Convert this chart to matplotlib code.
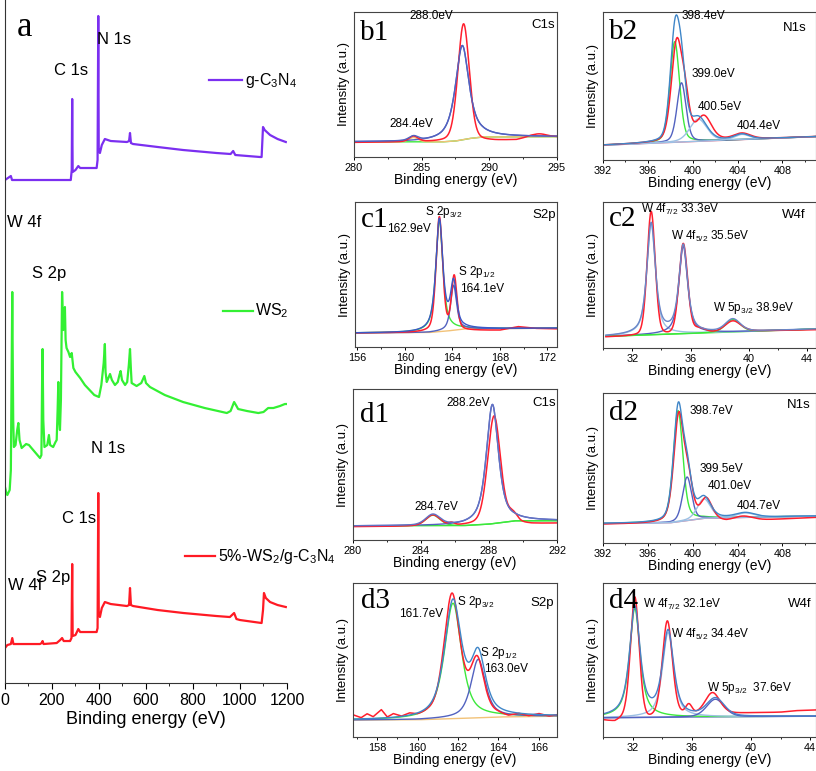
import numpy as np
import matplotlib
matplotlib.use('Agg')
import matplotlib.pyplot as plt

plt.rcParams['font.family'] = ['Liberation Sans', 'DejaVu Sans']
plt.rcParams['mathtext.fontset'] = 'custom'
plt.rcParams['mathtext.rm'] = 'Liberation Sans'
plt.rcParams['mathtext.default'] = 'regular'

# ---------------- survey spectra (panel a), binding energy in eV, intensity a.u.
gcn_e = [0, 25, 30, 280, 284, 286, 288, 300, 312, 320, 390, 394, 397, 399, 404, 412, 425, 450,
         519, 528, 532, 536, 545, 650, 758, 900, 960, 971, 980, 1085, 1092, 1098, 1105, 1128, 1160, 1195]
gcn_i = [503, 507, 503, 503, 513, 584, 511, 513, 517, 515, 515, 523, 667, 533, 530, 538, 544, 542,
         541, 542, 550, 540, 539, 536, 533, 530, 529, 532, 528, 526, 526, 556, 553, 548, 544, 541]

ws2_e = [0, 5, 10, 20, 25, 31, 35, 38, 45, 52, 57, 62, 71, 90, 102, 120, 149, 155, 158, 160, 163,
         168, 180, 187, 192, 205, 215, 220, 224, 227, 230, 234, 238, 243, 248, 252, 255, 258, 262,
         270, 277, 284, 291, 300, 320, 340, 360, 380, 400, 410, 420, 425, 428, 433, 440, 447, 455,
         468, 480, 487, 492, 498, 511, 520, 527, 532, 536, 539, 560, 580, 593, 600, 617, 680, 758,
         850, 944, 960, 975, 985, 992, 1030, 1078, 1100, 1120, 1142, 1170, 1191, 1200]
ws2_i = [196, 191, 188, 193, 213, 391, 263, 236, 238, 253, 260, 243, 235, 239, 238, 233, 225, 228,
         303, 334, 263, 236, 238, 248, 238, 236, 241, 243, 273, 301, 263, 253, 283, 391, 353, 363,
         376, 343, 335, 331, 326, 330, 315, 311, 305, 298, 293, 288, 286, 298, 320, 339, 311, 301,
         305, 309, 303, 298, 301, 308, 312, 303, 298, 301, 318, 334, 313, 300, 297, 300, 307, 300,
         296, 288, 281, 275, 270, 272, 281, 277, 274, 272, 270, 271, 275, 275, 277, 279, 279]

comp_e = [0, 10, 25, 31, 36, 80, 149, 156, 160, 164, 220, 235, 243, 250, 277, 283, 286, 288, 300,
          312, 320, 390, 394, 397, 399, 404, 412, 425, 450, 519, 528, 532, 536, 545, 650, 760, 900,
          957, 975, 985, 1000, 1092, 1098, 1102, 1110, 1128, 1160, 1195]
comp_i = [35, 38, 39, 45, 39, 39, 39, 40, 42, 39, 40, 43, 45, 42, 42, 45, 119, 47, 48, 54, 51, 51,
          55, 190, 71, 66, 75, 81, 79, 77, 78, 95, 78, 77, 73, 70, 67, 66, 70, 64, 63, 60, 73, 90,
          85, 81, 78, 76]

# ---------------- high resolution spectra: peaks are (centre eV, height, FWHM eV, lorentz fraction)
b1_bg_x, b1_bg_y = [280, 286.5, 287.5, 288.5, 289.5, 295], [0.104, 0.104, 0.11, 0.127, 0.138, 0.14]
b1_fit = [(284.4, 0.03, 0.8, 0.3), (288.0, 0.65, 1.2, 0.8)]
b1_raw_bg_x = [280, 286, 289, 290.5, 292, 293, 295]
b1_raw_bg_y = [0.10, 0.104, 0.11, 0.112, 0.118, 0.14, 0.14]
b1_raw = [(284.4, 0.038, 0.8, 0.3), (288.1, 0.81, 1.0, 0.25), (293.7, 0.018, 1.2, 0.0)]

b2_bg_x, b2_bg_y = [392, 411], [0.100, 0.158]
b2_fit = [(398.4, 0.68, 1.0, 0.3), (399.0, 0.40, 0.95, 0.3), (400.5, 0.15, 1.8, 0.3), (404.4, 0.035, 1.6, 0.3)]
b2_raw_bg_x, b2_raw_bg_y = [392, 411], [0.100, 0.158]
b2_raw = [(398.55, 0.64, 1.1, 0.3), (399.3, 0.26, 0.95, 0.3), (401.0, 0.16, 1.6, 0.3), (404.4, 0.04, 1.8, 0.3)]

c1_bg_x, c1_bg_y = [155.8, 162, 163.5, 165, 172.8], [0.097, 0.1, 0.11, 0.125, 0.13]
c1_fit = [(162.9, 0.77, 0.7, 0.8), (164.1, 0.31, 0.6, 0.7)]
c1_raw_bg_x = [155.8, 162, 163.5, 164.5, 166, 168, 169.5, 171, 172.8]
c1_raw_bg_y = [0.097, 0.1, 0.105, 0.11, 0.113, 0.115, 0.14, 0.128, 0.125]
c1_raw = [(162.9, 0.79, 0.65, 0.4), (164.15, 0.37, 0.55, 0.4)]

c2_bg_x, c2_bg_y = [30.2, 44.6], [0.08, 0.13]
c2_fit = [(33.3, 0.76, 0.7, 0.7), (35.5, 0.6, 0.7, 0.7), (38.9, 0.085, 1.2, 0.3)]
c2_raw_bg_x, c2_raw_bg_y = [30.2, 32, 34.5, 37, 40, 44.6], [0.075, 0.08, 0.085, 0.1, 0.115, 0.125]
c2_raw = [(33.3, 0.85, 0.65, 0.2), (35.5, 0.62, 0.7, 0.2), (36.6, 0.03, 1.0, 0.0), (38.9, 0.075, 1.3, 0.3)]

d1_bg_x, d1_bg_y = [280, 286.5, 288, 289.5, 292], [0.093, 0.095, 0.105, 0.127, 0.128]
d1_fit = [(284.7, 0.07, 1.0, 0.3), (288.2, 0.79, 0.85, 0.7)]
d1_raw_bg_x, d1_raw_bg_y = [280, 286, 288, 289.5, 290.5, 292], [0.088, 0.092, 0.1, 0.11, 0.105, 0.11]
d1_raw = [(284.7, 0.072, 1.0, 0.3), (285.8, 0.015, 0.4, 0.0), (288.3, 0.72, 0.9, 0.3), (289.4, 0.05, 0.6, 0.0)]

d2_bg_x, d2_bg_y = [392, 398, 399.5, 401, 411], [0.13, 0.135, 0.15, 0.165, 0.18]
d2_fit = [(398.7, 0.74, 1.0, 0.4), (399.5, 0.29, 0.95, 0.3), (401.0, 0.13, 1.4, 0.3), (404.7, 0.03, 2.0, 0.3)]
d2_raw_bg_x, d2_raw_bg_y = [392, 398, 400, 402, 403, 411], [0.125, 0.13, 0.14, 0.15, 0.14, 0.17]
d2_raw = [(398.75, 0.70, 1.05, 0.4), (399.6, 0.25, 0.95, 0.3), (401.2, 0.14, 1.2, 0.3), (404.5, 0.03, 2.0, 0.3)]

d3_bg_x, d3_bg_y = [156.8, 160, 162, 164, 166.9], [0.11, 0.112, 0.12, 0.13, 0.135]
d3_fit = [(161.75, 0.75, 1.0, 0.7), (163.0, 0.38, 0.85, 0.7)]
d3_raw_bg_x = [156.8, 157.2, 157.5, 157.8, 158.2, 158.5, 158.8, 159.2, 159.6, 160, 160.5, 161,
               164, 164.5, 165, 165.5, 166, 166.5, 166.9]
d3_raw_bg_y = [0.14, 0.12, 0.145, 0.125, 0.17, 0.12, 0.14, 0.12, 0.135, 0.12, 0.125, 0.115,
               0.13, 0.12, 0.14, 0.128, 0.145, 0.13, 0.14]
d3_raw = [(161.7, 0.80, 0.95, 0.5), (162.95, 0.35, 0.8, 0.5)]

d4_bg_x, d4_bg_y = [30, 44.4], [0.125, 0.135]
d4_fit = [(32.15, 0.71, 0.85, 0.8), (34.4, 0.55, 0.9, 0.7), (37.6, 0.115, 1.4, 0.3)]
d4_raw_bg_x = [30, 30.8, 31.5, 33, 34, 36.5, 38.5, 40, 42, 43, 44.4]
d4_raw_bg_y = [0.105, 0.09, 0.11, 0.095, 0.125, 0.14, 0.15, 0.155, 0.16, 0.17, 0.175]
d4_raw = [(32.15, 0.80, 0.7, 0.3), (34.35, 0.62, 0.8, 0.3), (35.8, 0.06, 0.5, 0.0), (37.4, 0.14, 1.2, 0.3)]


def pv(x, c, h, w, eta):
    L = 1.0 / (1.0 + ((x - c) / (w / 2.0)) ** 2)
    G = np.exp(-4 * np.log(2) * ((x - c) / w) ** 2)
    return h * (eta * L + (1 - eta) * G)


RED = '#ff1f2e'
GREEN = '#3ce83c'
BLUE = '#5262c0'
LBLUE = '#9cc0e4'
STEEL = '#3f86c8'
ORANGE = '#f2c278'
PINK = '#f0708a'

fig = plt.figure(figsize=(8.16, 7.71), dpi=100)

# ---------------- panel a
ax = fig.add_axes([0.0061, 0.1141, 0.3456, 0.8859])
ax.plot(gcn_e, gcn_i, color='#7b2ff0', lw=1.6)
ax.plot(ws2_e, ws2_i, color='#33f033', lw=1.6)
ax.plot(comp_e, comp_i, color='#ff1a24', lw=1.6)
ax.set_xlim(0, 1200)
ax.set_ylim(0, 683)
ax.set_xticks(np.arange(0, 1201, 200))
ax.set_xticks(np.arange(0, 1201, 100), minor=True)
ax.set_yticks([])
for s in ['top', 'right']:
    ax.spines[s].set_visible(False)
for s in ['left', 'bottom']:
    ax.spines[s].set_color('#333333')
ax.tick_params(axis='x', which='major', length=4, labelsize=11.5, pad=3)
ax.tick_params(axis='x', which='minor', length=2.5)
ax.set_xlabel('Binding energy (eV)', fontsize=13, labelpad=2)
ax.text(51, 647, 'a', family=['Liberation Serif'], fontsize=25, va='baseline')
fs = 12
ax.text(208, 613, 'C 1s', fontsize=fs, va='center')
ax.text(391, 644, 'N 1s', fontsize=fs, va='center')
ax.text(8, 461, 'W 4f', fontsize=fs, va='center')
ax.text(115, 410, 'S 2p', fontsize=fs, va='center')
ax.text(366, 235, 'N 1s', fontsize=fs, va='center')
ax.text(243, 165, 'C 1s', fontsize=fs, va='center')
ax.text(132, 106, 'S 2p', fontsize=fs, va='center')
ax.text(13, 98, 'W 4f', fontsize=fs, va='center')
ax.plot([868, 1008], [603, 603], color='#7b2ff0', lw=1.6, clip_on=False)
ax.text(1021, 603, 'g-C$_3$N$_4$', fontsize=11.5, va='center')
ax.plot([928, 1055], [372, 372], color='#33f033', lw=1.6, clip_on=False)
ax.text(1064, 372, 'WS$_2$', fontsize=11.5, va='center')
ax.plot([766, 894], [127, 127], color='#ff1a24', lw=1.6, clip_on=False)
ax.text(906, 127, '5%-WS$_2$/g-C$_3$N$_4$', fontsize=11.5, va='center')


def xps(rect, tag, xlim, major, minor, bg, fit, fit_colors, env_color, bg_color, raw_bg, raw, labels, tagpos):
    a = fig.add_axes(rect)
    x = np.linspace(xlim[0], xlim[1], 900)
    base = np.interp(x, bg[0], bg[1])
    a.plot(x, base, color=bg_color, lw=1.0)
    total = base.copy()
    for p, col in zip(fit, fit_colors):
        y = pv(x, *p)
        total += y
        a.plot(x, base + y, color=col, lw=1.0)
    rawy = np.interp(x, raw_bg[0], raw_bg[1])
    for p in raw:
        rawy = rawy + pv(x, *p)
    a.plot(x, rawy, color=RED, lw=1.1)
    a.plot(x, total, color=env_color, lw=1.0)
    a.set_xlim(*xlim)
    a.set_ylim(0, 1)
    a.set_xticks(major)
    a.set_xticks(minor, minor=True)
    a.set_yticks([])
    for s in a.spines.values():
        s.set_color('#444444')
        s.set_linewidth(0.8)
    a.tick_params(axis='x', which='major', length=2.5, width=0.7, labelsize=7.8, pad=1.5)
    a.tick_params(axis='x', which='minor', length=1.5, width=0.6)
    a.set_xlabel('Binding energy (eV)', fontsize=10, labelpad=0.5)
    a.set_ylabel('Intensity (a.u.)', fontsize=9.5, labelpad=3)
    a.text(tagpos[0], tagpos[1], tag, transform=a.transAxes, family=['Liberation Serif'],
           fontsize=21, va='baseline')
    for t, fx, fy, ha in labels:
        size = 9.5 if ha == 'right' else 8.5
        a.text(fx, fy, t, transform=a.transAxes, fontsize=size, ha=ha, va='center')
    return a


xps([0.4338, 0.7964, 0.2488, 0.1881], 'b1', (280, 295), [280, 285, 290, 295], np.arange(280, 295.1, 2.5),
    (b1_bg_x, b1_bg_y), b1_fit, [ORANGE, BLUE], BLUE, GREEN, (b1_raw_bg_x, b1_raw_bg_y), b1_raw,
    [('288.0eV', 0.383, 0.975, 'center'), ('284.4eV', 0.285, 0.23, 'center'), ('C1s', 0.992, 0.912, 'right')],
    (0.03, 0.808))

xps([0.739, 0.7925, 0.261, 0.192], 'b2', (392, 411), np.arange(392, 409, 4), np.arange(392, 411, 2),
    (b2_bg_x, b2_bg_y), b2_fit, [GREEN, BLUE, LBLUE, LBLUE], STEEL, PINK, (b2_raw_bg_x, b2_raw_bg_y), b2_raw,
    [('398.4eV', 0.47, 0.97, 'center'), ('399.0eV', 0.52, 0.58, 'center'), ('400.5eV', 0.55, 0.36, 'center'),
     ('404.4eV', 0.73, 0.23, 'center'), ('N1s', 0.956, 0.89, 'right')],
    (0.028, 0.817))

xps([0.435, 0.5499, 0.2476, 0.1881], 'c1', (155.8, 172.8), np.arange(156, 173, 4), np.arange(156, 173, 2),
    (c1_bg_x, c1_bg_y), c1_fit, [GREEN, BLUE], '#3a58c8', ORANGE, (c1_raw_bg_x, c1_raw_bg_y), c1_raw,
    [('S 2p$_{3/2}$', 0.44, 0.93, 'center'), ('162.9eV', 0.265, 0.815, 'center'),
     ('S 2p$_{1/2}$', 0.603, 0.52, 'center'), ('164.1eV', 0.63, 0.40, 'center'), ('S2p', 0.997, 0.91, 'right')],
    (0.028, 0.831))

xps([0.739, 0.5486, 0.261, 0.1894], 'c2', (30.2, 44.6), np.arange(32, 45, 4), np.arange(30, 45, 2),
    (c2_bg_x, c2_bg_y), c2_fit, [LBLUE, BLUE, GREEN], '#6a86c8', GREEN, (c2_raw_bg_x, c2_raw_bg_y), c2_raw,
    [('W 4f$_{7/2}$ 33.3eV', 0.18, 0.95, 'left'), ('W 4f$_{5/2}$ 35.5eV', 0.32, 0.765, 'left'),
     ('W 5p$_{3/2}$ 38.9eV', 0.516, 0.274, 'left'), ('W4f', 0.95, 0.91, 'right')],
    (0.028, 0.833))

xps([0.4326, 0.2996, 0.25, 0.1958], 'd1', (280, 292), np.arange(280, 293, 4), np.arange(280, 293, 2),
    (d1_bg_x, d1_bg_y), d1_fit, [GREEN, BLUE], '#6272c4', GREEN, (d1_raw_bg_x, d1_raw_bg_y), d1_raw,
    [('288.2eV', 0.566, 0.907, 'center'), ('284.7eV', 0.41, 0.22, 'center'), ('C1s', 0.997, 0.907, 'right')],
    (0.033, 0.785))

xps([0.739, 0.2957, 0.261, 0.1946], 'd2', (392, 411), np.arange(392, 409, 4), np.arange(392, 411, 2),
    (d2_bg_x, d2_bg_y), d2_fit, [GREEN, BLUE, LBLUE, LBLUE], STEEL, PINK, (d2_raw_bg_x, d2_raw_bg_y), d2_raw,
    [('398.7eV', 0.508, 0.878, 'center'), ('399.5eV', 0.558, 0.493, 'center'), ('401.0eV', 0.594, 0.378, 'center'),
     ('404.7eV', 0.73, 0.249, 'center'), ('N1s', 0.977, 0.922, 'right')],
    (0.028, 0.818))

xps([0.4326, 0.0441, 0.25, 0.1997], 'd3', (156.8, 166.9), np.arange(158, 167, 2), np.arange(157, 167, 1),
    (d3_bg_x, d3_bg_y), d3_fit, [GREEN, BLUE], STEEL, ORANGE, (d3_raw_bg_x, d3_raw_bg_y), d3_raw,
    [('S 2p$_{3/2}$', 0.508, 0.874, 'left'), ('161.7eV', 0.336, 0.80, 'center'),
     ('S 2p$_{1/2}$', 0.623, 0.543, 'left'), ('163.0eV', 0.643, 0.439, 'left'), ('S2p', 0.984, 0.87, 'right')],
    (0.041, 0.837))

xps([0.739, 0.0441, 0.261, 0.1997], 'd4', (30, 44.4), np.arange(32, 45, 4), np.arange(30, 45, 2),
    (d4_bg_x, d4_bg_y), d4_fit, [GREEN, LBLUE, BLUE], '#4a7ec8', '#7080c0', (d4_raw_bg_x, d4_raw_bg_y), d4_raw,
    [('W 4f$_{7/2}$ 32.1eV', 0.19, 0.86, 'left'), ('W 4f$_{5/2}$ 34.4eV', 0.32, 0.663, 'left'),
     ('W 5p$_{3/2}$  37.6eV', 0.49, 0.315, 'left'), ('W4f', 0.98, 0.865, 'right')],
    (0.028, 0.837))

fig.savefig('out.png', dpi=100)
